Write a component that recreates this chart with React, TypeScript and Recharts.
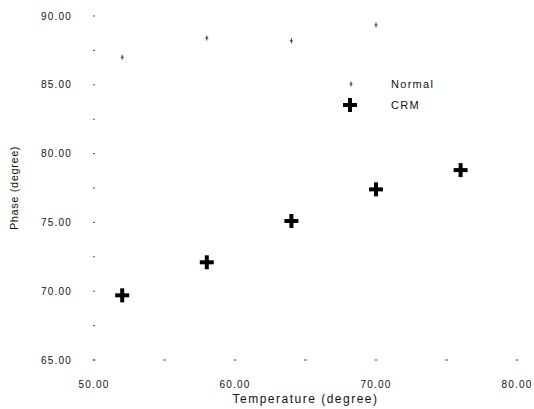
import { ScatterChart, Scatter, XAxis, YAxis } from 'recharts'

const normalTemp = [52, 58, 64, 70]
const normalPhase = [87.0, 88.4, 88.2, 89.35]
const crmTemp = [52, 58, 64, 70, 76]
const crmPhase = [69.7, 72.1, 75.1, 77.4, 78.8]
const xTicks = [50, 55, 60, 65, 70, 75, 80]
const yTicks = [65, 67.5, 70, 72.5, 75, 77.5, 80, 82.5, 85, 87.5, 90]

const normalData = normalTemp.map((t, i) => ({ t, p: normalPhase[i] }))
const crmData = crmTemp.map((t, i) => ({ t, p: crmPhase[i] }))

const FONT = '"Liberation Sans", Arial, sans-serif'

function SmallCross(props: any) {
  const { cx, cy } = props
  return (
    <g stroke="#333" strokeWidth={1}>
      <line x1={cx - 1.5} y1={cy} x2={cx + 1.5} y2={cy} />
      <line x1={cx} y1={cy - 2.5} x2={cx} y2={cy + 2.5} />
    </g>
  )
}

function BigCross(props: any) {
  const { cx, cy } = props
  return (
    <g stroke="#000" strokeWidth={4}>
      <line x1={cx - 7} y1={cy} x2={cx + 7} y2={cy} />
      <line x1={cx} y1={cy - 7} x2={cx} y2={cy + 7} />
    </g>
  )
}

function XTick(props: any) {
  const { x, y, payload } = props
  const v = payload.value
  return (
    <g>
      <line x1={x - 1.5} y1={y} x2={x + 1.5} y2={y} stroke="#555" strokeWidth={1} />
      {v % 10 === 0 && (
        <text x={x} y={y + 24} dy="0.35em" textAnchor="middle" fontSize={10} fontFamily={FONT}
          letterSpacing={1.2} fill="#111">
          {v.toFixed(2)}
        </text>
      )}
    </g>
  )
}

function YTick(props: any) {
  const { x, y, payload } = props
  const v = payload.value
  return (
    <g>
      <line x1={x - 1} y1={y} x2={x + 1} y2={y} stroke="#555" strokeWidth={1} />
      {v % 5 === 0 && (
        <text x={x - 22} y={y} dy="0.35em" textAnchor="end" fontSize={10} fontFamily={FONT}
          letterSpacing={1.2} fill="#111">
          {v.toFixed(2)}
        </text>
      )}
    </g>
  )
}

function LegendBox() {
  return (
    <svg width={120} height={40} style={{ position: 'absolute', left: 340, top: 74 }}>
      <SmallCross cx={11} cy={10} />
      <text x={51} y={10} dy="0.35em" fontSize={11} fontFamily={FONT} letterSpacing={1.3} fill="#111">Normal</text>
      <BigCross cx={10} cy={31} />
      <text x={51} y={31} dy="0.35em" fontSize={11} fontFamily={FONT} letterSpacing={1.3} fill="#111">CRM</text>
    </svg>
  )
}

export default function App() {
  return (
    <div style={{ position: 'relative', width: 534, height: 409 }}>
      <style>{'body{margin:0}'}</style>
      <ScatterChart width={534} height={409} margin={{ top: 16, right: 17, bottom: 0, left: 0 }}>
        <XAxis
          type="number"
          dataKey="t"
          domain={[50, 80]}
          ticks={xTicks}
          height={49}
          tickSize={0}
          tickMargin={0}
          axisLine={false}
          tickLine={false}
          tick={<XTick />}
          interval={0}
          label={{ value: 'Temperature (degree)', position: 'insideBottom', offset: 6,
            style: { fontSize: 12, fontFamily: FONT, letterSpacing: 1.5, fill: '#111' } }}
        />
        <YAxis
          type="number"
          dataKey="p"
          domain={[65, 90]}
          ticks={yTicks}
          width={94}
          tickSize={0}
          tickMargin={0}
          axisLine={false}
          tickLine={false}
          tick={<YTick />}
          interval={0}
          label={{ value: 'Phase (degree)', angle: -90, position: 'insideLeft', offset: 14,
            style: { fontSize: 11, fontFamily: FONT, letterSpacing: 0.6, fill: '#111', textAnchor: 'middle' } }}
        />
        <Scatter name="Normal" data={normalData} shape={<SmallCross />} isAnimationActive={false} />
        <Scatter name="CRM" data={crmData} shape={<BigCross />} isAnimationActive={false} />
      </ScatterChart>
      <LegendBox />
    </div>
  )
}
